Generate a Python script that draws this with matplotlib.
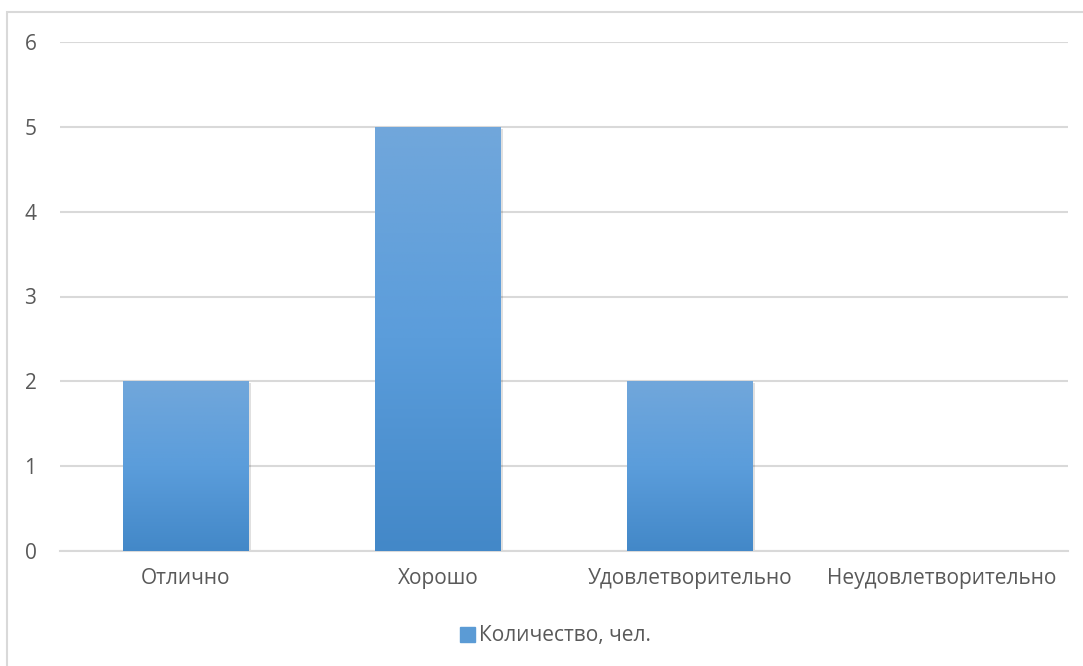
import numpy as np
import matplotlib.pyplot as plt
from matplotlib.colors import LinearSegmentedColormap
from matplotlib.patches import Rectangle

# Данные с диаграммы
CATEGORIES = ["Отлично", "Хорошо", "Удовлетворительно", "Неудовлетворительно"]
COUNTS = [2, 5, 2, 0]
SERIES_NAME = "Количество, чел."
Y_TICKS = [0, 1, 2, 3, 4, 5, 6]

plt.rcParams['font.family'] = ['Open Sans', 'DejaVu Sans']
TEXT_COLOR = "#595959"
GRID_COLOR = "#D9D9D9"
FS = 15

fig = plt.figure(figsize=(10.83, 6.66), dpi=100)
fig.patches.append(Rectangle((7 / 1083, -0.01), 1.02, (666 - 12) / 666 + 0.01,
                             transform=fig.transFigure, fill=False,
                             edgecolor=GRID_COLOR, linewidth=1.5))

ax = fig.add_axes([60 / 1083, 115 / 666, 1008 / 1083, 509 / 666])

# градиент столбцов: светлее сверху, темнее снизу
cmap = LinearSegmentedColormap.from_list("bar", ["#4388C8", "#5B9DDB", "#71A7DB"])
grad = np.linspace(0, 1, 256).reshape(-1, 1)

x = np.arange(len(CATEGORIES))
width = 0.5
bars = ax.bar(x, COUNTS, width, color="#5B9BD5", zorder=3)
for b in bars:
    h = b.get_height()
    if h <= 0:
        continue
    x0 = b.get_x()
    # мягкая тень
    ax.add_patch(Rectangle((x0 + 0.008, -0.02), width, h, color="#000000",
                           alpha=0.12, zorder=2.5, linewidth=0))
    im = ax.imshow(grad, cmap=cmap, aspect="auto", origin="lower",
                   extent=(x0, x0 + width, 0, h), zorder=3.5)
    im.set_clip_path(b)

ax.set_xlim(-0.5, len(CATEGORIES) - 0.5)
ax.set_ylim(0, 6)
ax.set_yticks(Y_TICKS)
ax.set_xticks(x)
ax.set_xticklabels(CATEGORIES)
ax.tick_params(axis="both", length=0, labelsize=FS, colors=TEXT_COLOR)
ax.tick_params(axis="y", pad=17)
ax.tick_params(axis="x", pad=12)
ax.grid(axis="y", color=GRID_COLOR, linewidth=1.5, zorder=0)
ax.set_axisbelow(True)
for side in ["top", "right", "left"]:
    ax.spines[side].set_visible(False)
ax.spines["bottom"].set_color(GRID_COLOR)
ax.spines["bottom"].set_linewidth(1.5)

handle = Rectangle((0, 0), 1, 1, color="#5B9BD5")
fig.legend([handle], [SERIES_NAME], loc="center", bbox_to_anchor=(0.513, 1 - 636 / 666),
           frameon=False, fontsize=FS, handlelength=0.7, handleheight=0.7,
           handletextpad=0.2, labelcolor=TEXT_COLOR)

fig.savefig("out.png", dpi=100)
